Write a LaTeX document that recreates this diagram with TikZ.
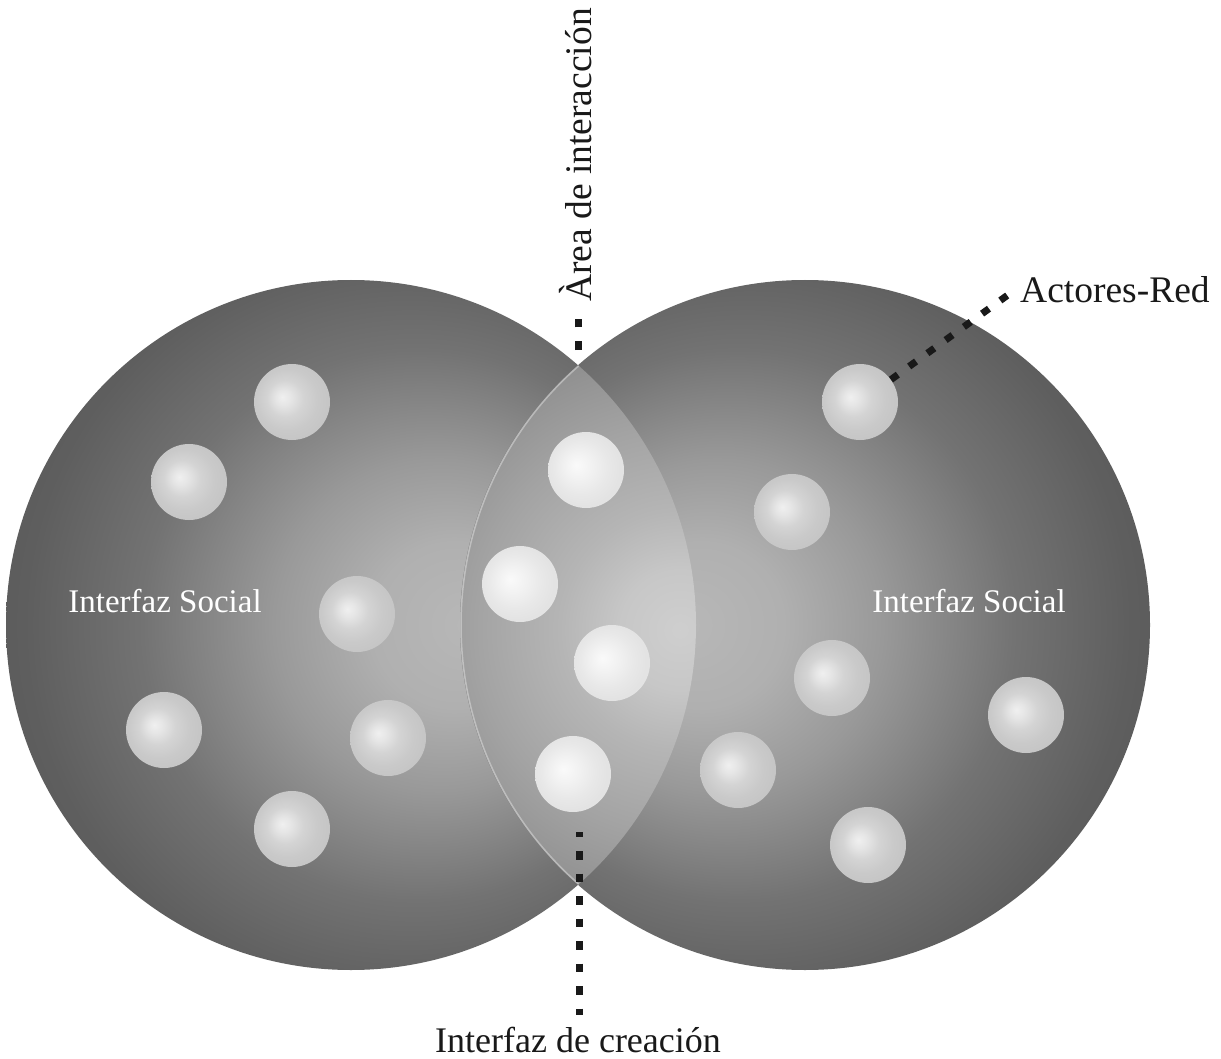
\documentclass[tikz,border=0pt]{standalone}
\usepackage{fontspec}
\setmainfont{Liberation Serif}
\pgfdeclareradialshading{leftsh}{\pgfpoint{8.7bp}{0bp}}{color(0bp)=(black!28); color(6bp)=(black!31); color(12bp)=(black!40); color(20bp)=(black!55); color(27bp)=(black!63); color(34bp)=(black!67); color(45bp)=(black!67)}
\pgfdeclareradialshading{rightsh}{\pgfpoint{-8.7bp}{0bp}}{color(0bp)=(black!28); color(6bp)=(black!31); color(12bp)=(black!40); color(20bp)=(black!55); color(27bp)=(black!63); color(34bp)=(black!67); color(45bp)=(black!67)}
\pgfdeclareradialshading{lenssh}{\pgfpoint{0bp}{0bp}}{color(0bp)=(black!19); color(5bp)=(black!22); color(10bp)=(black!29); color(17bp)=(black!36); color(23bp)=(black!43); color(30bp)=(black!46); color(40bp)=(black!46)}
\pgfdeclareradialshading{ballsh}{\pgfpoint{-6.5bp}{3.3bp}}{color(0bp)=(black!6); color(5bp)=(black!10); color(12bp)=(black!17); color(20bp)=(black!21); color(32bp)=(black!24); color(40bp)=(black!24)}
\pgfdeclareradialshading{lballsh}{\pgfpoint{-6.5bp}{3.3bp}}{color(0bp)=(black!2); color(8bp)=(black!5); color(18bp)=(black!9); color(25bp)=(black!11); color(35bp)=(black!12); color(40bp)=(black!12)}
\tikzset{
  bigcirc/.style={circle, minimum size=690pt, inner sep=0pt},
  ball/.style={circle, minimum size=76pt, inner sep=0pt, shading=ballsh},
  lball/.style={circle, minimum size=76pt, inner sep=0pt, shading=lballsh},
  dotline/.style={line width=7pt, black!90, dash pattern=on 8.5pt off 14pt},
  darklabel/.style={font=\fontsize{36}{40}\selectfont, text=black!90, inner sep=0pt},
  whitelabel/.style={font=\fontsize{33}{38}\selectfont, text=white, inner sep=0pt}
}
\begin{document}
\begin{tikzpicture}[x=1pt,y=-1pt]
\useasboundingbox[fill=white] (0,0) rectangle (1221,1059);
% large circles
\node[bigcirc, shading=leftsh] (L) at (351,625) {};
\node[bigcirc, shading=rightsh] (R) at (805,625) {};
% lens
\begin{scope}
  \clip (351,625) circle[radius=345pt];
  \clip (805,625) circle[radius=345pt];
  \shade[shading=lenssh] (680,630) circle[radius=300pt];
\end{scope}
\begin{scope}
  \clip (351,625) circle[radius=345pt];
  \draw[white, opacity=0.35, line width=1.5pt] (805,625) circle[radius=344pt];
\end{scope}
% actors
\node[ball] (b1) at (292,402) {};
\node[ball] (b2) at (189,482) {};
\node[ball] (b3) at (357,614) {};
\node[ball] (b4) at (164,730) {};
\node[ball] (b5) at (388,738) {};
\node[ball] (b6) at (292,829) {};
\node[lball] (b7) at (586,470) {};
\node[lball] (b8) at (520,584) {};
\node[lball] (b9) at (612,663) {};
\node[lball] (b10) at (573,774) {};
\node[ball] (b11) at (860,402) {};
\node[ball] (b12) at (792,512) {};
\node[ball] (b13) at (832,678) {};
\node[ball] (b14) at (1026,715) {};
\node[ball] (b15) at (738,770) {};
\node[ball] (b16) at (868,845) {};
% labels
\node[whitelabel, anchor=base] (sl) at (165,612) {Interfaz Social};
\node[whitelabel, anchor=base] (sr) at (969,612) {Interfaz Social};
\node[darklabel, font=\fontsize{37.5}{42}\selectfont, anchor=base, rotate=90] (area) at (591,155) {Àrea de interacción};
\node[darklabel, anchor=base] (crea) at (578,1052) {Interfaz de creación};
\node[darklabel, font=\fontsize{37.5}{42}\selectfont, anchor=base west] (act) at (1020,303) {Actores-Red};
% connectors
\coordinate (atop) at (578,350);
\coordinate (abot) at (578,318);
\draw[dotline] (atop) -- (abot);
\coordinate (ctop) at (579,832);
\coordinate (cbot) at (579,1015);
\draw[dotline, dash phase=3.5pt] (ctop) -- (cbot);
\coordinate (aend) at (1012,292);
\draw[dotline] (b11) -- (aend);
\end{tikzpicture}
\end{document}
